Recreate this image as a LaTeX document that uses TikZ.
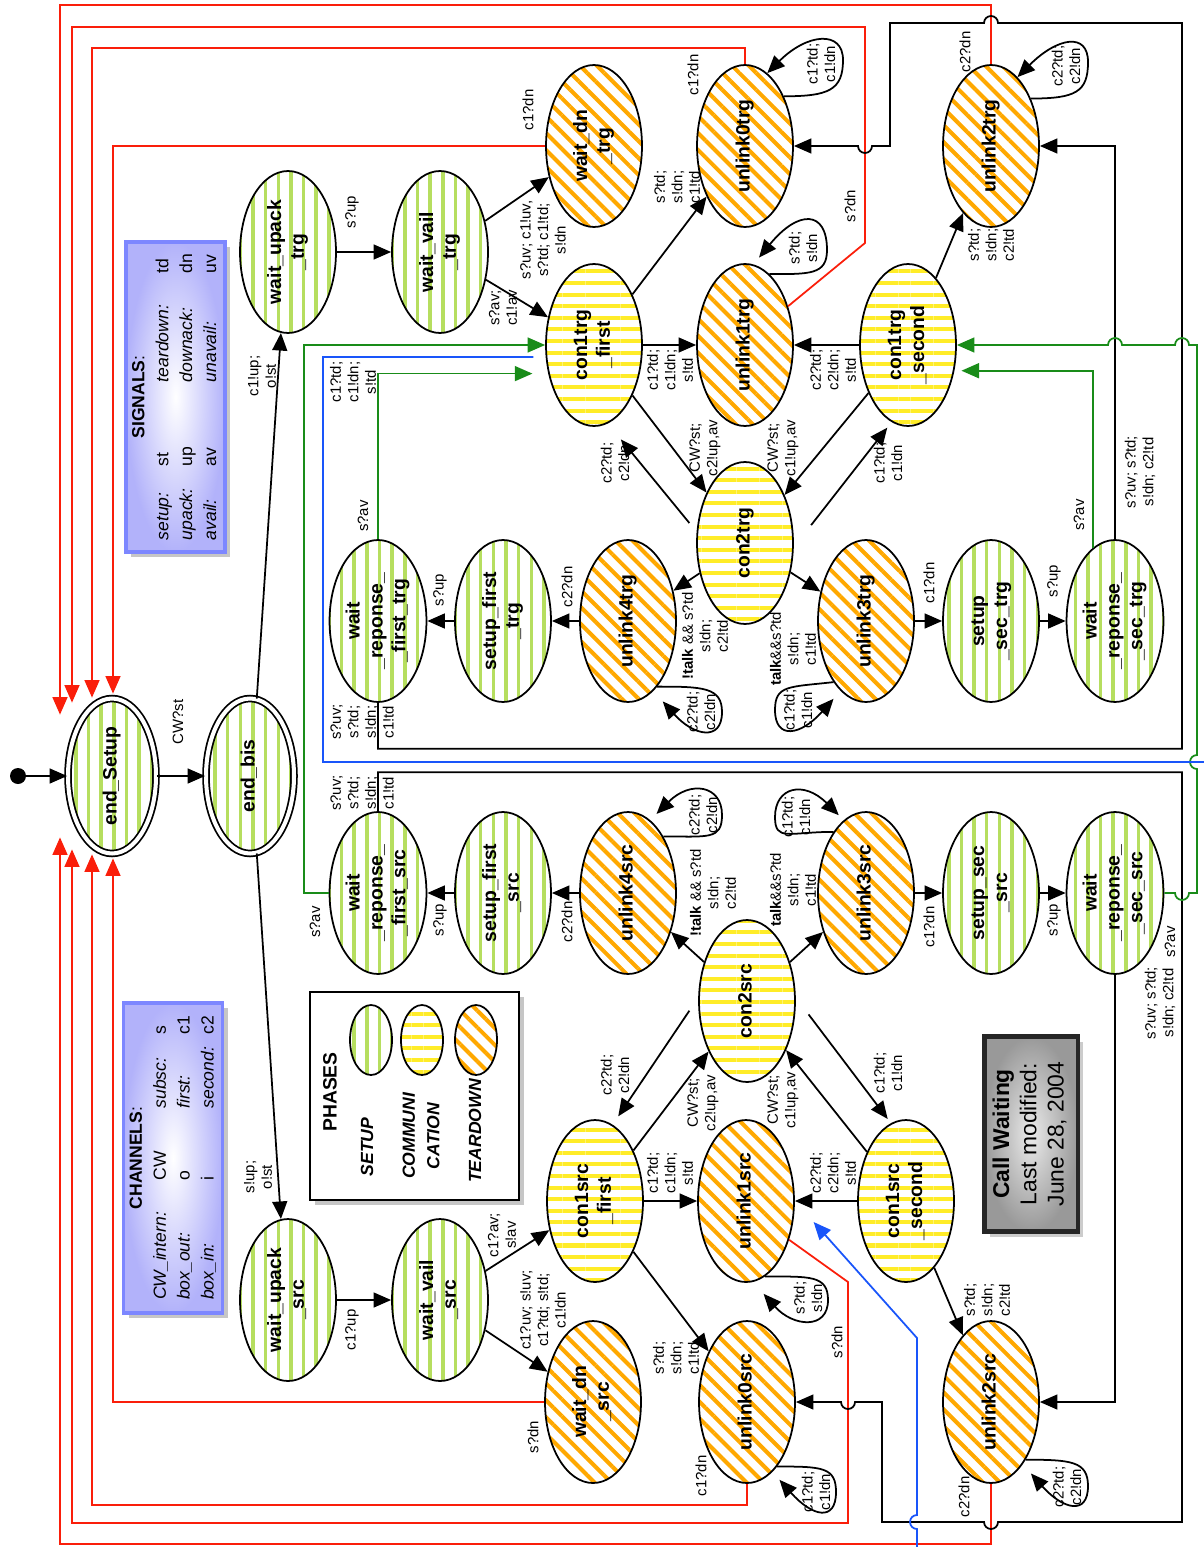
\documentclass[tikz,border=0pt]{standalone}
\usepackage{fontspec}
\setmainfont{Liberation Sans}
\usepackage{graphicx}
\usetikzlibrary{shapes.geometric,arrows.meta,patterns.meta,shadows,calc}

\definecolor{setupgreen}{RGB}{182,222,95}
\definecolor{commyellow}{RGB}{255,236,40}
\definecolor{tearorange}{RGB}{255,168,0}
\definecolor{tdred}{RGB}{250,30,10}
\definecolor{avgreen}{RGB}{25,140,25}
\definecolor{tdblue}{RGB}{25,85,250}
\definecolor{boxblue}{RGB}{125,135,255}
\definecolor{boxfill}{RGB}{178,178,250}

% text standing upright in the rotated drawing
\newcommand{\rt}[1]{\rotatebox{90}{\begin{tabular}{@{}c@{}}#1\end{tabular}}}

\begin{document}
\begin{tikzpicture}[x=0.02cm,y=-0.02cm,>={Triangle[length=10pt,width=8.5pt]}]
    \tikzset{
        state/.style={
            ellipse,draw,line width=1pt,inner sep=0pt,
            minimum width=1.92cm,minimum height=3.24cm,
            font=\fontsize{11}{13}\selectfont\bfseries
        },
        setup/.style={state,pattern={Lines[angle=90,distance=7.2pt,line width=2pt]},pattern color=setupgreen},
        comm/.style={state,pattern={Lines[angle=0,distance=6.6pt,line width=2.3pt]},pattern color=commyellow},
        tear/.style={state,pattern={Lines[angle=-45,distance=6.8pt,line width=2.3pt]},pattern color=tearorange},
        final/.style={minimum width=1.76cm,minimum height=3.1cm,double,double distance=2.3pt},
        arr/.style={->,line width=1pt},
        tdarr/.style={arr,draw=tdred},
        avarr/.style={arr,draw=avgreen},
        bluearr/.style={arr,draw=tdblue},
        lab/.style={rotate=90,align=center,inner sep=0pt,font=\fontsize{8.5}{10}\selectfont},
        infobox/.style={
            rectangle,draw=boxblue,line width=2pt,inner color=white,outer color=boxfill,
            drop shadow={opacity=0.45,shadow xshift=3pt,shadow yshift=-3pt},
            minimum width=1.98cm,minimum height=6.2cm,inner sep=0pt,
            font=\fontsize{10}{13.6}\selectfont
        },
        phase/.style={font=\fontsize{10}{14}\selectfont\bfseries\itshape,rotate=90,align=center,inner sep=0pt}
    }
    \path[use as bounding box] (0,0) rectangle (1203,1547);

    % legend boxes
    \node[infobox] (signals) at (175.5,397) {\rotatebox{90}{\begin{tabular}{@{}p{42pt}@{}p{48pt}@{}p{62pt}@{}l@{}}
        \multicolumn{4}{@{}c@{}}{\textbf{SIGNALS}:}\\
        \textit{setup:}&st&\textit{teardown:}&td\\
        \textit{upack:}&up&\textit{downack:}&dn\\
        \textit{avail:}&av&\textit{unavail:}&uv
        \end{tabular}}};
    \node[infobox] (channels) at (173,1158) {\rotatebox{90}{\begin{tabular}{@{}p{68pt}@{}p{41pt}@{}p{42pt}@{}l@{}}
        \multicolumn{4}{@{}c@{}}{\textbf{CHANNELS}:}\\
        \textit{CW\_intern:}&CW&\textit{subsc:}&s\\
        \textit{box\_out:}&o&\textit{first:}&c1\\
        \textit{box\_in:}&i&\textit{second:}&c2
        \end{tabular}}};
    \node[draw,line width=1.5pt,fill=white,drop shadow={opacity=0.45,shadow xshift=3pt,shadow yshift=-3pt},
          minimum width=4.18cm,minimum height=4.16cm] (phases) at (414.5,1096) {};
    \node[rotate=90,inner sep=0pt,font=\fontsize{11}{13}\selectfont\bfseries] (ph-title) at (330,1092) {PHASES};
    \node[setup,minimum width=0.84cm,minimum height=1.4cm] (ph-s) at (371,1040) {};
    \node[comm,minimum width=0.84cm,minimum height=1.4cm] (ph-c) at (422,1040) {};
    \node[tear,minimum width=0.84cm,minimum height=1.4cm] (ph-t) at (476,1040) {};
    \node[phase] (ph-st) at (367,1147) {SETUP};
    \node[phase] (ph-ct) at (421,1136) {COMMUNI\\CATION};
    \node[phase] (ph-tt) at (475,1131) {TEARDOWN};
    \node[draw=black!85,line width=2.5pt,inner color=black!8,outer color=black!40,
          drop shadow={opacity=0.4,shadow xshift=3pt,shadow yshift=-3pt},
          minimum width=1.78cm,minimum height=3.9cm,font=\fontsize{13}{15.5}\selectfont] (cw) at (1031,1134)
        {\rt{\textbf{Call Waiting}\\Last modified:\\June 28, 2004}};

    % states
    \node[circle,fill,inner sep=0pt,minimum size=0.32cm] (init) at (18,776) {};
    \node[setup,final] (es) at (112,776) {\rt{end\_Setup}};
    \node[setup,final] (eb) at (250,776) {\rt{end\_bis}};

    \node[setup] (wut) at (288,252) {\rt{wait\_upack\\\_trg}};
    \node[setup] (wvt) at (440,252) {\rt{wait\_vail\\\_trg}};
    \node[tear] (wdt) at (594,146) {\rt{wait\_dn\\\_trg}};
    \node[tear] (u0t) at (745,146) {\rt{unlink0trg}};
    \node[tear] (u2t) at (991,146) {\rt{unlink2trg}};
    \node[comm] (c1tf) at (594,345) {\rt{con1trg\\\_first}};
    \node[tear] (u1t) at (745,345) {\rt{unlink1trg}};
    \node[comm] (c1ts) at (908,345) {\rt{con1trg\\\_second}};
    \node[comm] (c2t) at (745,543) {\rt{con2trg}};
    \node[tear] (u4t) at (628,621) {\rt{unlink4trg}};
    \node[setup] (sft) at (503,621) {\rt{setup\_first\\\_trg}};
    \node[setup] (wrft) at (378,621) {\rt{wait\\\_reponse\_\\\_first\_trg}};
    \node[tear] (u3t) at (866,621) {\rt{unlink3trg}};
    \node[setup] (sst) at (991,621) {\rt{setup\\\_sec\_trg}};
    \node[setup] (wrst) at (1115,621) {\rt{wait\\\_reponse\_\\\_sec\_trg}};

    \node[setup] (wrfs) at (378,893) {\rt{wait\\\_reponse\_\\\_first\_src}};
    \node[setup] (sfs) at (503,893) {\rt{setup\_first\\\_src}};
    \node[tear] (u4s) at (628,893) {\rt{unlink4src}};
    \node[comm] (c2s) at (747,1001) {\rt{con2src}};
    \node[tear] (u3s) at (866,893) {\rt{unlink3src}};
    \node[setup] (sss) at (991,893) {\rt{setup\_sec\\\_src}};
    \node[setup] (wrss) at (1115,893) {\rt{wait\\\_reponse\_\\\_sec\_src}};
    \node[setup] (wus) at (288,1300) {\rt{wait\_upack\\\_src}};
    \node[setup] (wvs) at (440,1300) {\rt{wait\_vail\\\_src}};
    \node[comm] (c1sf) at (595,1201) {\rt{con1src\\\_first}};
    \node[tear] (u1s) at (746,1201) {\rt{unlink1src}};
    \node[comm] (c1ss) at (906,1201) {\rt{con1src\\\_second}};
    \node[tear] (wds) at (593,1402) {\rt{wait\_dn\\\_src}};
    \node[tear] (u0s) at (747,1402) {\rt{unlink0src}};
    \node[tear] (u2s) at (991,1402) {\rt{unlink2src}};

    % teardown back to end_Setup
    \draw[tdarr] (u2t.north) -- (991,5) -| ($(es.north)+(-52,17)$);
    \draw[tdarr] (u1t.42) -- (865,243) -- (865,27) -| ($(es.north)+(-40,5)$);
    \draw[tdarr] (u0t.north) -- (745,48) -| ($(es.north)+(-20,0)$);
    \draw[tdarr] (wdt.west) -| ($(es.north)+(1,-4)$);
    \draw[tdarr] (wds.west) -| ($(es.south)+(1,4)$);
    \draw[tdarr] (u0s.south) -- ++(0,21) -| ($(es.south)+(-20,0)$);
    \draw[tdarr] (u1s.-42) -- (848,1282) -- (848,1523) -| ($(es.south)+(-40,-5)$);
    \draw[tdarr] (u2s.south) -- ++(0,60) -| ($(es.south)+(-52,-17)$);

    % plain transitions
    \draw[arr] (init) -- (es);
    \draw[arr] (es) -- (eb);
    \draw[arr] (eb.85) -- (wut.265);
    \draw[arr] (eb.275) -- (wus.95);
    \foreach \a/\b in {wut/wvt,wvt/wdt,wvt/c1tf,c1tf/u0t,c1tf/u1t,c1ts/u1t,c1ts/u2t,c1tf/c2t,c1ts/c2t,
                       c2t/u4t,c2t/u3t,u4t/sft,sft/wrft,u3t/sst,sst/wrst,
                       wus/wvs,wvs/wds,wvs/c1sf,c1sf/u0s,c1sf/u1s,c1ss/u1s,c1ss/u2s,c1sf/c2s,c1ss/c2s,
                       c2s/u4s,c2s/u3s,u4s/sfs,sfs/wrfs,u3s/sss,sss/wrss}
        \draw[arr] (\a) -- (\b);
    \draw[arr,shorten <=6.5pt,shorten >=11.7pt] (c2t.167) -- (c1tf.280);
    \draw[arr,shorten <=16pt,shorten >=4pt] (c2t.355) -- (c1ts.258);
    \draw[arr,shorten <=9pt,shorten >=5.7pt] (c2s.176) -- (c1sf.77);
    \draw[arr,shorten <=12pt,shorten >=3pt] (c2s.4) -- (c1ss.101);

    % long way round
    \draw[arr] (wrft.south) -- ++(0,46) -| (1182,23) -- (998,23) arc[start angle=0,end angle=-180,radius=7]
        -- (890,23) |- (872,146) arc[start angle=0,end angle=180,radius=7] -- (u0t.east);
    \draw[arr] (wrfs.north) -- ++(0,-39) -| (1182,1522) -- (998,1522) arc[start angle=0,end angle=180,radius=7]
        -- (882,1522) |- (855,1402) arc[start angle=0,end angle=180,radius=7] -- (u0s.east);
    \draw[arr] (wrst.north) |- (u2t.east);
    \draw[arr] (wrss.south) |- (u2s.east);

    % avail back to con1
    \draw[avarr] (wrfs.west) -- ++(-25,0) |- (c1tf.west);
    \draw[avarr,shorten >=9pt] (wrft.north) |- (c1tf.212);
    \draw[avarr,shorten >=4pt] (wrst.107) |- (c1ts.331);
    \draw[avarr] (wrss.east) -- (1175,893) arc[start angle=180,end angle=0,radius=7] -- (1197,893)
        -- (1197,769) arc[start angle=90,end angle=270,radius=7] -- (1197,345)
        -- (1189,345) arc[start angle=0,end angle=-180,radius=7]
        -- (1122,345) arc[start angle=0,end angle=-180,radius=7] -- (c1ts.east);
    \draw[bluearr,shorten <=7pt,shorten >=16pt] (c1tf.194) -- (323,357) -- (323,762) -- (1240,762)
        -- (1240,1580) -- (917,1580) -- (917,1529) arc[start angle=90,end angle=270,radius=7]
        -- (917,1338) -- (u1s.east);

    % self loops
    \draw[arr] (u0t.52) .. controls +(45,0) and +(0,30) .. (843,60)
        .. controls +(0,-30) and +(40,-40) .. (u0t.73);
    \draw[arr,shorten >=5pt] (u1t.71) .. controls +(40,0) and +(0,25) .. (827,250)
        .. controls +(0,-40) and +(45,-55) .. (u1t.84);
    \draw[arr] (u2t.50) .. controls +(45,0) and +(0,30) .. (1088,62)
        .. controls +(0,-30) and +(40,-40) .. (u2t.69);
    \draw[arr,shorten >=8pt] (u4t.-66) .. controls +(45,0) and +(0,-25) .. (722,712)
        .. controls +(0,30) and +(40,45) .. (u4t.-70);
    \draw[arr,shorten >=6pt] (u3t.242) .. controls +(-45,5) and +(0,-25) .. (775,710)
        .. controls +(0,30) and +(-40,45) .. (u3t.250);
    \draw[arr,shorten >=5pt] (u4s.58) .. controls +(45,0) and +(0,25) .. (722,815)
        .. controls +(0,-30) and +(40,-40) .. (u4s.73);
    \draw[arr,shorten >=4pt] (u3s.118) .. controls +(-45,0) and +(0,25) .. (775,817)
        .. controls +(0,-30) and +(-40,-40) .. (u3s.107);
    \draw[arr,shorten >=9pt] (u1s.-76) .. controls +(45,0) and +(0,-25) .. (828,1300)
        .. controls +(0,30) and +(40,45) .. (u1s.-85);
    \draw[arr,shorten >=6pt] (u0s.-65) .. controls +(45,0) and +(0,-25) .. (836,1492)
        .. controls +(0,30) and +(40,45) .. (u0s.-70);
    \draw[arr,shorten >=7pt] (u2s.-59) .. controls +(45,0) and +(0,-25) .. (1088,1486)
        .. controls +(0,30) and +(40,45) .. (u2s.-63);

    % labels, trg half
    \node[lab] (l-cwst) at (178,722) {CW?st};
    \node[lab] (l-c1up) at (262,376) {c1!up;\\o!st};
    \node[lab] (l-wut) at (352,212) {s?up};
    \node[lab] (l-wvt-wdt) at (543,240) {s?uv; c1!uv,\\s?td; c1!td;\\s!dn};
    \node[lab] (l-wvt-c1tf) at (503,308) {s?av;\\c1!av};
    \node[lab] (l-c1tf-u0t) at (677,187) {s?td;\\s!dn;\\c1!td};
    \node[lab] (l-c1tf-u1t) at (670,370) {c1?td;\\c1!dn;\\s!td};
    \node[lab] (l-c1ts-u1t) at (833,370) {c2?td;\\c2!dn;\\s!td};
    \node[lab] (l-c1ts-u2t) at (991,245) {s?td;\\s!dn;\\c2!td};
    \node[lab] (l-c1tf-c2t) at (705,448) {CW?st;\\c2!up,av};
    \node[lab] (l-c1ts-c2t) at (783,448) {CW?st;\\c1!up,av};
    \node[lab] (l-c2t-c1tf) at (615,463) {c2?td;\\c2!dn};
    \node[lab] (l-c2t-c1ts) at (888,463) {c1?td;\\c1!dn};
    \node[lab] (l-c2t-u4t) at (705,636) {\textbf{!talk} \&\& s?td\\s!dn;\\c2!td};
    \node[lab] (l-c2t-u3t) at (793,649) {\textbf{talk}\&\&s?td\\s!dn;\\c1!td};
    \node[lab] (l-u4t) at (567,587) {c2?dn};
    \node[lab] (l-sft) at (440,590) {s?up};
    \node[lab] (l-u3t) at (929,583) {c1?dn};
    \node[lab] (l-sst) at (1054,581) {s?up};
    \node[lab] (l-wrft) at (362,722) {s?uv;\\s?td;\\s!dn;\\c1!td};
    \node[lab] (l-wrst) at (1140,472) {s?uv; s?td;\\s!dn; c2!td};
    \node[lab] (l-blue) at (353,382) {c1?td;\\c1!dn;\\s!td};
    \node[lab] (l-wdt) at (528,110) {c1?dn};
    \node[lab] (l-u0t) at (693,75) {c1?dn};
    \node[lab] (l-u1t) at (850,206) {s?dn};
    \node[lab] (l-u2t) at (965,52) {c2?dn};
    \node[lab] (l-avft) at (363,516) {s?av};
    \node[lab] (l-avst) at (1079,515) {s?av};
    \node[lab] (l-lu0t) at (821,64) {c1?td;\\c1!dn};
    \node[lab] (l-lu1t) at (803,248) {s?td;\\s!dn};
    \node[lab] (l-lu2t) at (1066,66) {c2?td;\\c2!dn};
    \node[lab] (l-lu4t) at (701,712) {c2?td;\\c2!dn};
    \node[lab] (l-lu3t) at (798,710) {c1?td;\\c1!dn};

    % labels, src half
    \node[lab] (l-sup) at (258,1177) {s!up;\\o!st};
    \node[lab] (l-wus) at (352,1330) {c1?up};
    \node[lab] (l-wvs-c1sf) at (502,1235) {c1?av;\\s!av};
    \node[lab] (l-wvs-wds) at (543,1310) {c1?uv; s!uv;\\c1?td; s!td;\\c1!dn};
    \node[lab] (l-c1sf-u0s) at (676,1358) {s?td;\\s!dn;\\c1!td};
    \node[lab] (l-c1sf-u1s) at (670,1173) {c1?td;\\c1!dn;\\s!td};
    \node[lab] (l-c1ss-u1s) at (833,1173) {c2?td;\\c2!dn;\\s!td};
    \node[lab] (l-c1ss-u2s) at (987,1300) {s?td;\\s!dn;\\c2!td};
    \node[lab] (l-c1sf-c2s) at (703,1103) {CW?st;\\c2!up,av};
    \node[lab] (l-c1ss-c2s) at (783,1100) {CW?st;\\c1!up,av};
    \node[lab] (l-c2s-c1sf) at (615,1075) {c2?td;\\c2!dn};
    \node[lab] (l-c2s-c1ss) at (888,1073) {c1?td;\\c1!dn};
    \node[lab] (l-c2s-u4s) at (713,893) {\textbf{!talk} \&\& s?td\\s!dn;\\c2!td};
    \node[lab] (l-c2s-u3s) at (793,890) {\textbf{talk}\&\&s?td\\s!dn;\\c1!td};
    \node[lab] (l-u4s) at (567,922) {c2?dn};
    \node[lab] (l-sfs) at (440,920) {s?up};
    \node[lab] (l-u3s) at (929,927) {c1?dn};
    \node[lab] (l-sss) at (1054,920) {s?up};
    \node[lab] (l-wrfs) at (362,793) {s?uv;\\s?td;\\s!dn;\\c1!td};
    \node[lab] (l-wrss) at (1160,1003) {s?uv; s?td;\\s!dn; c2!td};
    \node[lab] (l-wds) at (533,1437) {s?dn};
    \node[lab] (l-u0s) at (701,1476) {c1?dn};
    \node[lab] (l-u1s) at (837,1342) {s?dn};
    \node[lab] (l-u2s) at (964,1497) {c2?dn};
    \node[lab] (l-avfs) at (315,922) {s?av};
    \node[lab] (l-avss) at (1170,942) {s?av};
    \node[lab] (l-lu4s) at (703,815) {c2?td;\\c2!dn};
    \node[lab] (l-lu3s) at (796,817) {c1?td;\\c1!dn};
    \node[lab] (l-lu1s) at (808,1298) {s?td;\\s!dn};
    \node[lab] (l-lu0s) at (816,1492) {c1?td;\\c1!dn};
    \node[lab] (l-lu2s) at (1067,1487) {c2?td;\\c2!dn};
\end{tikzpicture}
\end{document}
